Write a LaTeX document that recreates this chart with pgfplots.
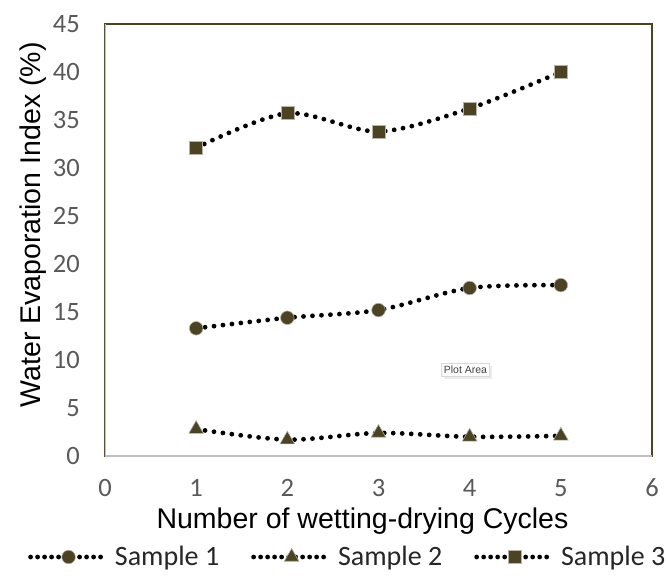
\documentclass[border=0pt]{standalone}
\usepackage{pgfplots}
\pgfplotsset{compat=1.18}
\usetikzlibrary{shadows}
\usepackage{fontspec}
\setmainfont{Liberation Sans}
\newfontfamily\calfont{Carlito}
\definecolor{olivem}{HTML}{4B4324}
\definecolor{tickgray}{HTML}{595959}
\definecolor{axgray}{HTML}{BFBFBF}
\begin{document}
\begin{tikzpicture}
\useasboundingbox (-105pt,-122pt) rectangle (561pt,456pt);
\begin{axis}[
  scale only axis,
  width=547pt, height=432pt,
  xmin=0, xmax=6, ymin=0, ymax=45,
  xtick={0,1,...,6}, ytick={0,5,...,45},
  major tick length=0pt,
  axis line style={draw=olivem, line width=2.5pt},
  /pgf/number format/assume math mode=true,
  xticklabel style={font=\calfont\fontsize{26.5}{30}\selectfont, text=tickgray, anchor=center, inner sep=0pt, yshift=-32pt},
  yticklabel style={font=\calfont\fontsize{26.5}{30}\selectfont, text=tickgray, anchor=east, inner sep=0pt, xshift=-25pt},
  every axis x label/.style={at={(axis description cs:0.4707,-0.1505)}, anchor=center},
  every axis y label/.style={at={(axis description cs:-0.1316,0.535)}, anchor=center, rotate=90},
  xlabel={Number of wetting-drying Cycles},
  ylabel={Water Evaporation Index (\%)},
  label style={font=\fontsize{28.5}{32}\selectfont},
  legend columns=3,
  legend style={draw=none, fill=none, at={(-0.1408,-0.2338)}, anchor=west, inner sep=0pt,
    font=\calfont\fontsize{28}{30}\selectfont, text=black!85,
    nodes={inner sep=0pt}},
  /tikz/every odd column/.append style={column sep=5pt},
  /tikz/every even column/.append style={column sep=32pt},
  legend image code/.code={
    \draw[#1, mark repeat=2, mark phase=2, dash pattern=on 0pt off 7pt]
      plot coordinates {(0pt,0pt) (38pt,0pt) (77pt,0pt)};
  },
  every axis plot/.append style={
    black, line width=4.8pt, line cap=round, dash pattern=on 0pt off 9pt,
    smooth, tension=0.5,
    mark options={solid, fill=olivem, draw=olivem!40!white, line width=0.6pt}
  },
]
\addplot[mark=*, mark size=6.8pt] coordinates {(1,13.3) (2,14.4) (3,15.2) (4,17.5) (5,17.8)};
\addlegendentry{Sample 1}
\addplot[mark=triangle*, mark size=8.5pt] coordinates {(1,2.8) (2,1.7) (3,2.4) (4,2.0) (5,2.1)};
\addlegendentry{Sample 2}
\addplot[mark=square*, mark size=6.5pt] coordinates {(1,32.1) (2,35.7) (3,33.8) (4,36.2) (5,40.0)};
\addlegendentry{Sample 3}
\draw[axgray, line width=2pt] (rel axis cs:0,1) -- (rel axis cs:0,0) -- (rel axis cs:1,0);
\node[draw=black!15, fill=white, inner sep=2.5pt, font=\fontsize{10.5}{12}\selectfont, text=black!75,
  drop shadow={opacity=0.15}] at (axis cs:3.954,8.96) {Plot Area};
\end{axis}
\end{tikzpicture}
\end{document}
